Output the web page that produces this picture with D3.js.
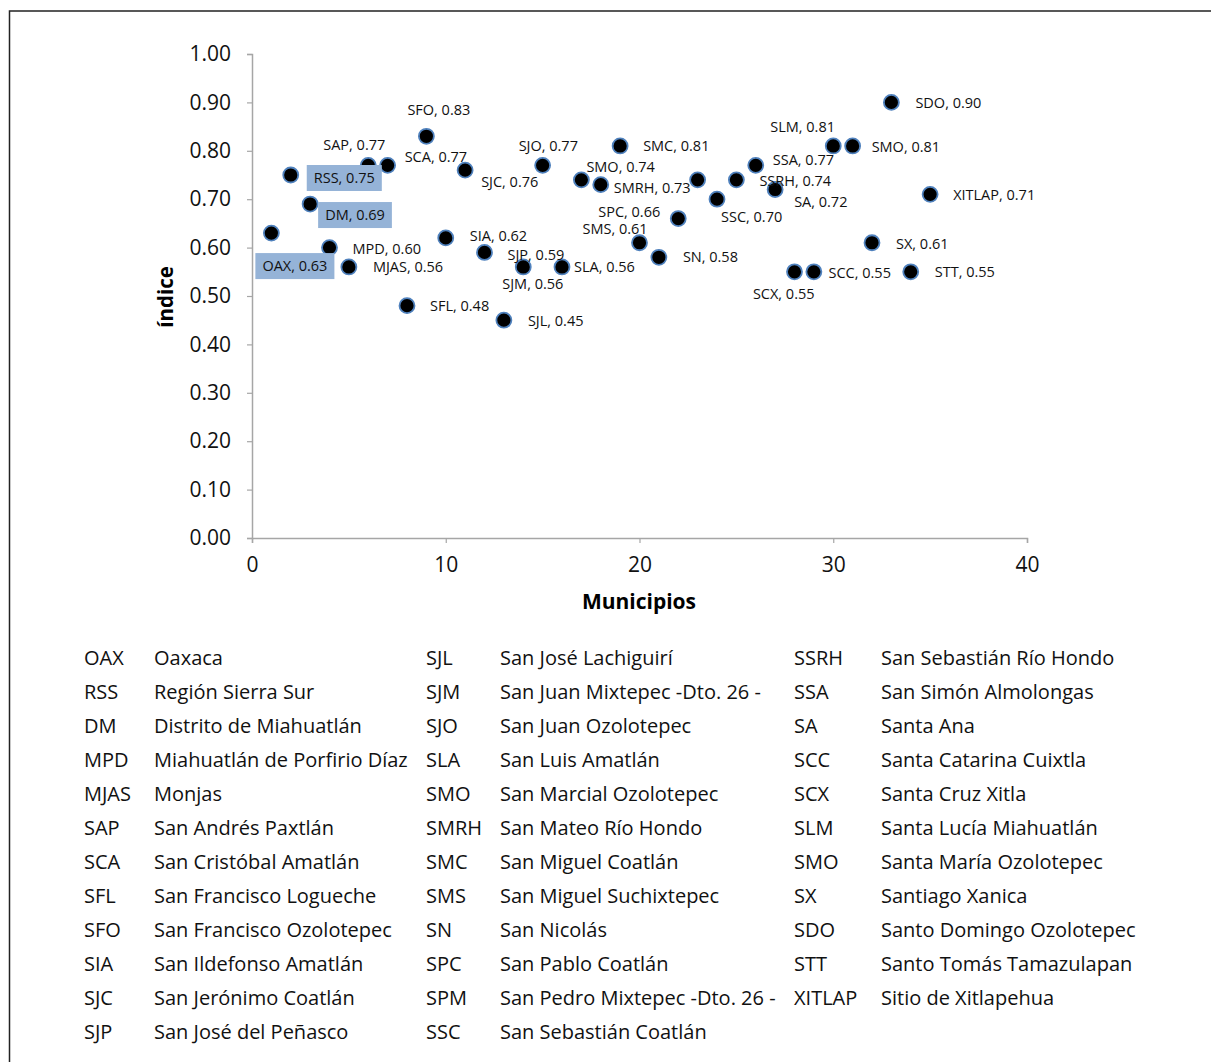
<!DOCTYPE html>
<html><head><meta charset="utf-8">
<script src="https://cdn.jsdelivr.net/npm/d3@7"></script>
<style>
body{margin:0;background:#fff;}
svg{display:block;font-family:"Open Sans", sans-serif;}
</style></head>
<body>
<svg id="c" width="1211" height="1062"></svg>
<script>
// ---- data ----
const codes = ["OAX","RSS","DM","MPD","MJAS","SAP","SCA","SFL","SFO","SIA","SJC","SJP","SJL","SJM","SJO","SLA","SMO","SMRH","SMC","SMS","SN","SPC","SPM","SSC","SSRH","SSA","SA","SCC","SCX","SLM","SMO","SX","SDO","STT","XITLAP"];
const municipio = [1,2,3,4,5,6,7,8,9,10,11,12,13,14,15,16,17,18,19,20,21,22,23,24,25,26,27,28,29,30,31,32,33,34,35];
const indice = [0.63,0.75,0.69,0.60,0.56,0.77,0.77,0.48,0.83,0.62,0.76,0.59,0.45,0.56,0.77,0.56,0.74,0.73,0.81,0.61,0.58,0.66,0.74,0.70,0.74,0.77,0.72,0.55,0.55,0.81,0.81,0.61,0.90,0.55,0.71];
const showLabel = [1,1,1,1,1,1,1,1,1,1,1,1,1,1,1,1,1,1,1,1,1,1,0,1,1,1,1,1,1,1,1,1,1,1,1];
const highlighted = ["OAX","RSS","DM"];
const yTicks = [0,0.1,0.2,0.3,0.4,0.5,0.6,0.7,0.8,0.9,1.0];
const xTicks = [0,10,20,30,40];
const legendCodes = [
  ["OAX","RSS","DM","MPD","MJAS","SAP","SCA","SFL","SFO","SIA","SJC","SJP"],
  ["SJL","SJM","SJO","SLA","SMO","SMRH","SMC","SMS","SN","SPC","SPM","SSC"],
  ["SSRH","SSA","SA","SCC","SCX","SLM","SMO","SX","SDO","STT","XITLAP"]
];
const legendNames = [
  ["Oaxaca","Región Sierra Sur","Distrito de Miahuatlán","Miahuatlán de Porfirio Díaz","Monjas","San Andrés Paxtlán","San Cristóbal Amatlán","San Francisco Logueche","San Francisco Ozolotepec","San Ildefonso Amatlán","San Jerónimo Coatlán","San José del Peñasco"],
  ["San José Lachiguirí","San Juan Mixtepec -Dto. 26 -","San Juan Ozolotepec","San Luis Amatlán","San Marcial Ozolotepec","San Mateo Río Hondo","San Miguel Coatlán","San Miguel Suchixtepec","San Nicolás","San Pablo Coatlán","San Pedro Mixtepec -Dto. 26 -","San Sebastián Coatlán"],
  ["San Sebastián Río Hondo","San Simón Almolongas","Santa Ana","Santa Catarina Cuixtla","Santa Cruz Xitla","Santa Lucía Miahuatlán","Santa María Ozolotepec","Santiago Xanica","Santo Domingo Ozolotepec","Santo Tomás Tamazulapan","Sitio de Xitlapehua"]
];

// ---- label placement (style, pixel offsets from the marker) ----
const labelOffset = [
 [-9,33],[23,3],[15,11],[23,1],[24,0],[-45,-20],[17,-8],[23,0],[-19,-26],[24,-2],
 [16,12],[23,2],[24,1],[-21,17],[-24,-19],[12,0],[5,-13],[13,3],[23,0],[-57,-14],
 [24,0],[-80,-7],[0,0],[4,18],[23,1],[17,-5],[19,12],[34,1],[-61,22],[-63,-19],
 [19,1],[24,1],[24,1],[24,0],[23,1]
];

const svg = d3.select("#c");
svg.append("rect").attr("x",9.5).attr("y",11).attr("width",1215).attr("height",1070)
  .attr("fill","none").attr("stroke","#222").attr("stroke-width",1.5);

const x = d3.scaleLinear().domain([0,40]).range([252,1027]);
const y = d3.scaleLinear().domain([0,1]).range([538,54]);
const axisColor = "#a6a6a6";

const gx = svg.append("g").attr("transform","translate(0,538)")
  .call(d3.axisBottom(x).tickValues(xTicks).tickSize(5).tickPadding(14).tickFormat(d3.format("d")));
const gy = svg.append("g").attr("transform","translate(252,0)")
  .call(d3.axisLeft(y).tickValues(yTicks).tickSize(5).tickPadding(16).tickFormat(d3.format(".2f")));
[gx,gy].forEach(g=>{
  g.select(".domain").attr("stroke",axisColor).attr("stroke-width",1.5);
  g.selectAll(".tick line").attr("stroke",axisColor).attr("stroke-width",1.2);
  g.selectAll(".tick text").attr("fill","#111").attr("font-size",21).attr("font-family","'Open Sans', sans-serif");
});

svg.append("text").attr("transform","translate(173,297) rotate(-90)").attr("text-anchor","middle")
  .attr("font-size",20.5).attr("font-weight","bold").attr("fill","#000").text("índice");
svg.append("text").attr("x",639).attr("y",609).attr("text-anchor","middle")
  .attr("font-size",21).attr("font-weight","bold").attr("fill","#000").text("Municipios");

const pts = municipio.map((m,i)=>({m, v:indice[i], code:codes[i], show:showLabel[i], off:labelOffset[i]}));

svg.append("g").selectAll("circle").data(pts).join("circle")
  .attr("cx",d=>x(d.m)).attr("cy",d=>y(d.v)).attr("r",7.5)
  .attr("fill","#000").attr("stroke","#4f81bd").attr("stroke-width",1.8);

const lg = svg.append("g");
pts.filter(d=>d.show).forEach(d=>{
  const tx = x(d.m)+d.off[0], ty = y(d.v)+d.off[1];
  const txt = `${d.code}, ${d.v.toFixed(2)}`;
  const g = lg.append("g");
  const t = g.append("text").attr("x",tx).attr("y",ty).attr("dy","0.35em")
    .attr("font-size",14.5).attr("fill","#111").text(txt);
  if (highlighted.includes(d.code)) {
    const bb = t.node().getBBox();
    g.insert("rect","text").attr("x",bb.x-7).attr("y",ty-13).attr("width",bb.width+14).attr("height",26)
      .attr("fill","#95b3d7");
  }
});

// legend table
const colX = [[84,154],[426,500],[794,881]];
legendCodes.forEach((col,ci)=>{
  col.forEach((c,ri)=>{
    const yy = 658 + ri*34;
    svg.append("text").attr("x",colX[ci][0]).attr("y",yy).attr("dy","0.35em")
      .attr("font-size",20).attr("fill","#111").text(c);
    svg.append("text").attr("x",colX[ci][1]).attr("y",yy).attr("dy","0.35em")
      .attr("font-size",20).attr("fill","#111").text(legendNames[ci][ri]);
  });
});
</script>
</body></html>
